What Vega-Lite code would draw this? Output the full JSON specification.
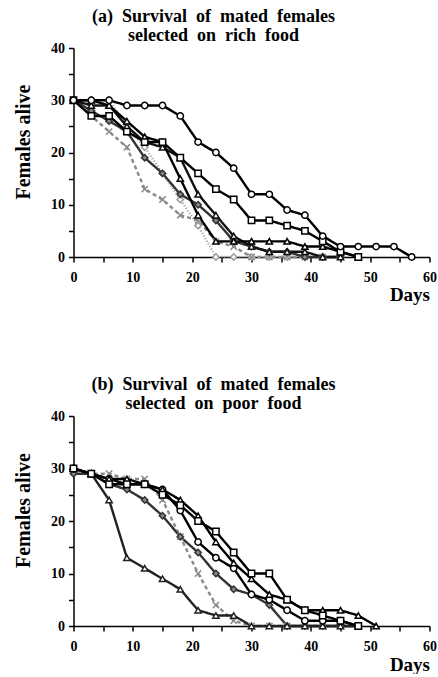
{
"$schema": "https://vega.github.io/schema/vega-lite/v6.json",
"background": "white",
"padding": {"left": 12.5, "top": 8, "right": 0, "bottom": 0},
"bounds": "flush",
"spacing": 159,
"datasets": {
"a": [
{"s":"dotted","d":0,"n":30},{"s":"dotted","d":3,"n":30},{"s":"dotted","d":6,"n":30},{"s":"dotted","d":9,"n":25},{"s":"dotted","d":12,"n":21},{"s":"dotted","d":15,"n":16},{"s":"dotted","d":18,"n":11},{"s":"dotted","d":21,"n":6},{"s":"dotted","d":24,"n":0},{"s":"dotted","d":27,"n":0},{"s":"dotted","d":30,"n":0},{"s":"dotted","d":33,"n":0},{"s":"dotted","d":36,"n":0},{"s":"dotted","d":39,"n":0},{"s":"dotted","d":42,"n":0},{"s":"dotted","d":45,"n":0},
{"s":"xdash","d":0,"n":30},{"s":"xdash","d":3,"n":27},{"s":"xdash","d":6,"n":24},{"s":"xdash","d":9,"n":21},{"s":"xdash","d":12,"n":13},{"s":"xdash","d":15,"n":11},{"s":"xdash","d":18,"n":8},{"s":"xdash","d":21,"n":7},{"s":"xdash","d":24,"n":3},{"s":"xdash","d":27,"n":2},{"s":"xdash","d":30,"n":0},{"s":"xdash","d":33,"n":0},{"s":"xdash","d":36,"n":0},{"s":"xdash","d":39,"n":0},{"s":"xdash","d":42,"n":0},
{"s":"diamond","d":0,"n":30},{"s":"diamond","d":3,"n":28},{"s":"diamond","d":6,"n":26},{"s":"diamond","d":9,"n":24},{"s":"diamond","d":12,"n":19},{"s":"diamond","d":15,"n":16},{"s":"diamond","d":18,"n":12},{"s":"diamond","d":21,"n":10},{"s":"diamond","d":24,"n":7},{"s":"diamond","d":27,"n":3},{"s":"diamond","d":30,"n":2},{"s":"diamond","d":33,"n":1},{"s":"diamond","d":36,"n":1},{"s":"diamond","d":39,"n":0},{"s":"diamond","d":42,"n":0},{"s":"diamond","d":45,"n":0},
{"s":"tri2","d":0,"n":30},{"s":"tri2","d":3,"n":29},{"s":"tri2","d":6,"n":29},{"s":"tri2","d":9,"n":25},{"s":"tri2","d":12,"n":22},{"s":"tri2","d":15,"n":21},{"s":"tri2","d":18,"n":19},{"s":"tri2","d":21,"n":12},{"s":"tri2","d":24,"n":8},{"s":"tri2","d":27,"n":4},{"s":"tri2","d":30,"n":2},{"s":"tri2","d":33,"n":1},{"s":"tri2","d":36,"n":1},{"s":"tri2","d":39,"n":1},{"s":"tri2","d":42,"n":0},{"s":"tri2","d":45,"n":0},
{"s":"triangle","d":0,"n":30},{"s":"triangle","d":3,"n":30},{"s":"triangle","d":6,"n":29},{"s":"triangle","d":9,"n":26},{"s":"triangle","d":12,"n":23},{"s":"triangle","d":15,"n":22},{"s":"triangle","d":18,"n":15},{"s":"triangle","d":21,"n":8},{"s":"triangle","d":24,"n":3},{"s":"triangle","d":27,"n":3},{"s":"triangle","d":30,"n":3},{"s":"triangle","d":33,"n":3},{"s":"triangle","d":36,"n":3},{"s":"triangle","d":39,"n":2},{"s":"triangle","d":42,"n":2},{"s":"triangle","d":45,"n":1},{"s":"triangle","d":48,"n":0},
{"s":"square","d":0,"n":30},{"s":"square","d":3,"n":27},{"s":"square","d":6,"n":27},{"s":"square","d":9,"n":24},{"s":"square","d":12,"n":22},{"s":"square","d":15,"n":22},{"s":"square","d":18,"n":19},{"s":"square","d":21,"n":16},{"s":"square","d":24,"n":13},{"s":"square","d":27,"n":11},{"s":"square","d":30,"n":7},{"s":"square","d":33,"n":7},{"s":"square","d":36,"n":6},{"s":"square","d":39,"n":5},{"s":"square","d":42,"n":3},{"s":"square","d":45,"n":1},{"s":"square","d":48,"n":0},
{"s":"circle","d":0,"n":30},{"s":"circle","d":3,"n":30},{"s":"circle","d":6,"n":30},{"s":"circle","d":9,"n":29},{"s":"circle","d":12,"n":29},{"s":"circle","d":15,"n":29},{"s":"circle","d":18,"n":27},{"s":"circle","d":21,"n":22},{"s":"circle","d":24,"n":20},{"s":"circle","d":27,"n":17},{"s":"circle","d":30,"n":12},{"s":"circle","d":33,"n":12},{"s":"circle","d":36,"n":9},{"s":"circle","d":39,"n":8},{"s":"circle","d":42,"n":4},{"s":"circle","d":45,"n":2},{"s":"circle","d":48,"n":2},{"s":"circle","d":51,"n":2},{"s":"circle","d":54,"n":2},{"s":"circle","d":57,"n":0}
],
"b": [
{"s":"xdash","d":0,"n":30},{"s":"xdash","d":3,"n":29},{"s":"xdash","d":6,"n":29},{"s":"xdash","d":9,"n":28},{"s":"xdash","d":12,"n":28},{"s":"xdash","d":15,"n":24},{"s":"xdash","d":18,"n":17},{"s":"xdash","d":21,"n":10},{"s":"xdash","d":24,"n":4},{"s":"xdash","d":27,"n":1},{"s":"xdash","d":30,"n":0},{"s":"xdash","d":33,"n":0},{"s":"xdash","d":36,"n":0},{"s":"xdash","d":39,"n":0},{"s":"xdash","d":42,"n":0},{"s":"xdash","d":45,"n":0},{"s":"xdash","d":48,"n":0},
{"s":"diamond","d":0,"n":29},{"s":"diamond","d":3,"n":29},{"s":"diamond","d":6,"n":27},{"s":"diamond","d":9,"n":26},{"s":"diamond","d":12,"n":24},{"s":"diamond","d":15,"n":21},{"s":"diamond","d":18,"n":17},{"s":"diamond","d":21,"n":14},{"s":"diamond","d":24,"n":10},{"s":"diamond","d":27,"n":7},{"s":"diamond","d":30,"n":6},{"s":"diamond","d":33,"n":4},{"s":"diamond","d":36,"n":0},{"s":"diamond","d":39,"n":0},{"s":"diamond","d":42,"n":0},{"s":"diamond","d":45,"n":0},{"s":"diamond","d":48,"n":0},
{"s":"fast","d":0,"n":30},{"s":"fast","d":3,"n":29},{"s":"fast","d":6,"n":24},{"s":"fast","d":9,"n":13},{"s":"fast","d":12,"n":11},{"s":"fast","d":15,"n":9},{"s":"fast","d":18,"n":7},{"s":"fast","d":21,"n":3},{"s":"fast","d":24,"n":2},{"s":"fast","d":27,"n":2},{"s":"fast","d":30,"n":0},{"s":"fast","d":33,"n":0},{"s":"fast","d":36,"n":0},{"s":"fast","d":39,"n":0},{"s":"fast","d":42,"n":0},{"s":"fast","d":45,"n":0},{"s":"fast","d":48,"n":0},
{"s":"circle","d":0,"n":30},{"s":"circle","d":3,"n":29},{"s":"circle","d":6,"n":28},{"s":"circle","d":9,"n":27},{"s":"circle","d":12,"n":27},{"s":"circle","d":15,"n":26},{"s":"circle","d":18,"n":22},{"s":"circle","d":21,"n":16},{"s":"circle","d":24,"n":13},{"s":"circle","d":27,"n":11},{"s":"circle","d":30,"n":6},{"s":"circle","d":33,"n":5},{"s":"circle","d":36,"n":3},{"s":"circle","d":39,"n":1},{"s":"circle","d":42,"n":1},{"s":"circle","d":45,"n":1},{"s":"circle","d":48,"n":0},
{"s":"triangle","d":0,"n":30},{"s":"triangle","d":3,"n":29},{"s":"triangle","d":6,"n":28},{"s":"triangle","d":9,"n":28},{"s":"triangle","d":12,"n":27},{"s":"triangle","d":15,"n":26},{"s":"triangle","d":18,"n":24},{"s":"triangle","d":21,"n":21},{"s":"triangle","d":24,"n":16},{"s":"triangle","d":27,"n":12},{"s":"triangle","d":30,"n":9},{"s":"triangle","d":33,"n":6},{"s":"triangle","d":36,"n":5},{"s":"triangle","d":39,"n":3},{"s":"triangle","d":42,"n":3},{"s":"triangle","d":45,"n":3},{"s":"triangle","d":48,"n":2},{"s":"triangle","d":51,"n":0},
{"s":"square","d":0,"n":30},{"s":"square","d":3,"n":29},{"s":"square","d":6,"n":27},{"s":"square","d":9,"n":27},{"s":"square","d":12,"n":27},{"s":"square","d":15,"n":25},{"s":"square","d":18,"n":23},{"s":"square","d":21,"n":20},{"s":"square","d":24,"n":18},{"s":"square","d":27,"n":14},{"s":"square","d":30,"n":10},{"s":"square","d":33,"n":10},{"s":"square","d":36,"n":5},{"s":"square","d":39,"n":3},{"s":"square","d":42,"n":2},{"s":"square","d":45,"n":1},{"s":"square","d":48,"n":0}
]
},
"config": {
"view": {"stroke": null},
"axis": {"grid": false, "domainColor": "black", "domainWidth": 1.5, "tickColor": "black", "tickWidth": 1.5, "tickSize": 5, "labelFont": "Liberation Serif", "labelFontSize": 14, "labelFontWeight": "bold", "labelColor": "black", "titleFont": "Liberation Serif", "titleFontSize": 19, "titleFontWeight": "bold", "titleColor": "black"},
"title": {"font": "Liberation Serif", "fontSize": 18, "fontWeight": "bold", "color": "black", "anchor": "middle", "frame": "group", "lineHeight": 19, "dx": -38, "offset": -4}
},
"vconcat": [
{
"width": 356, "height": 209,
"data": {"name": "a"},
"title": {"text": ["(a)\u00a0 Survival\u00a0 of\u00a0 mated\u00a0 females", "selected\u00a0 on\u00a0 rich\u00a0 food"]},
"encoding": {
"x": {"field": "d", "type": "quantitative", "scale": {"domain": [0, 60], "nice": false}, "axis": {"values": [0,5,10,15,20,25,30,35,40,45,50,55,60], "labelExpr": "datum.value % 10 === 0 ? datum.label : ''", "labelFlush": false, "labelPadding": 8, "title": "Days", "titleX": 356, "titleY": 43, "titleAlign": "right", "titleBaseline": "alphabetic"}},
"y": {"field": "n", "type": "quantitative", "scale": {"domain": [0, 40], "nice": false}, "axis": {"values": [0,5,10,15,20,25,30,35,40], "labelExpr": "datum.value % 10 === 0 ? datum.label : ''", "labelPadding": 4, "title": "Females alive", "titleFontSize": 20, "titleX": -44.5, "titleY": 93.5, "titleAlign": "center", "titleBaseline": "alphabetic", "titleAngle": -90}},
"stroke": {"field": "s", "type": "nominal", "legend": null, "scale": {"domain": ["circle","square","triangle","tri2","diamond","fast","xdash","dotted"], "range": ["#000000","#000000","#000000","#111111","#333333","#222222","#8a8a8a","#9a9a9a"]}}
},
"layer": [
{"mark": {"type": "line"}, "encoding": {
"strokeWidth": {"field": "s", "type": "ordinal", "legend": null, "scale": {"domain": ["circle","square","triangle","tri2","diamond","fast","xdash","dotted"], "range": [2.4,2.4,2.4,2,1.3,1.4,1,1]}},
"strokeDash": {"field": "s", "type": "nominal", "legend": null, "scale": {"domain": ["circle","square","triangle","tri2","diamond","fast","xdash","dotted"], "range": [[1,0],[1,0],[1,0],[1,0],[1,0],[1,0],[4,3],[1,2]]}}
}},
{"mark": {"type": "point", "filled": true, "size": 40, "strokeWidth": 1.5, "opacity": 1}, "encoding": {
"shape": {"field": "s", "type": "nominal", "legend": null, "scale": {"domain": ["circle","square","triangle","tri2","diamond","fast","xdash","dotted"], "range": ["circle","square","triangle-up","triangle-up","diamond","triangle-up","M-1,-1L1,1M-1,1L1,-1","diamond"]}},
"fill": {"field": "s", "type": "nominal", "legend": null, "scale": {"domain": ["circle","square","triangle","tri2","diamond","fast","xdash","dotted"], "range": ["white","white","white","white","#888888","white","#aaaaaa","white"]}}
}}
]
},
{
"width": 356, "height": 210,
"data": {"name": "b"},
"title": {"text": ["(b)\u00a0 Survival\u00a0 of\u00a0 mated\u00a0 females", "selected\u00a0 on\u00a0 poor\u00a0 food"]},
"encoding": {
"x": {"field": "d", "type": "quantitative", "scale": {"domain": [0, 60], "nice": false}, "axis": {"values": [0,5,10,15,20,25,30,35,40,45,50,55,60], "labelExpr": "datum.value % 10 === 0 ? datum.label : ''", "labelFlush": false, "labelPadding": 8, "title": "Days", "titleX": 356, "titleY": 44, "titleAlign": "right", "titleBaseline": "alphabetic"}},
"y": {"field": "n", "type": "quantitative", "scale": {"domain": [0, 40], "nice": false}, "axis": {"values": [0,5,10,15,20,25,30,35,40], "labelExpr": "datum.value % 10 === 0 ? datum.label : ''", "labelPadding": 4, "title": "Females alive", "titleFontSize": 20, "titleX": -44.5, "titleY": 94, "titleAlign": "center", "titleBaseline": "alphabetic", "titleAngle": -90}},
"stroke": {"field": "s", "type": "nominal", "legend": null}
},
"layer": [
{"mark": {"type": "line"}, "encoding": {
"strokeWidth": {"field": "s", "type": "ordinal", "legend": null},
"strokeDash": {"field": "s", "type": "nominal", "legend": null}
}},
{"mark": {"type": "point", "filled": true, "size": 40, "strokeWidth": 1.5, "opacity": 1}, "encoding": {
"shape": {"field": "s", "type": "nominal", "legend": null},
"fill": {"field": "s", "type": "nominal", "legend": null}
}}
]
}
]
}
